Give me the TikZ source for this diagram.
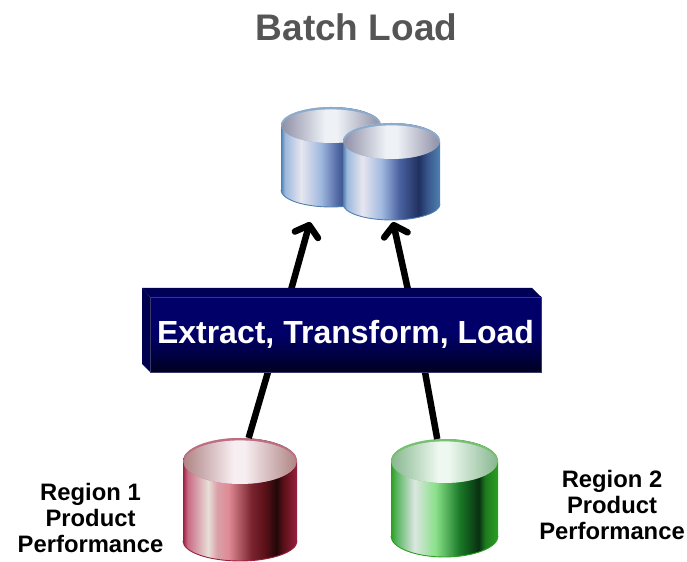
\documentclass[tikz,border=0pt]{standalone}
\usepackage{fontspec}
\setmainfont{Liberation Sans}
\usetikzlibrary{arrows.meta,calc,positioning}
\definecolor{rC}{HTML}{C96A85}\definecolor{rH}{HTML}{E8DFD8}\definecolor{rM}{HTML}{D9A0A8}
\definecolor{rP}{HTML}{E08A95}\definecolor{rD}{HTML}{7A2430}\definecolor{rE}{HTML}{5A1018}
\definecolor{rK}{HTML}{200808}\definecolor{rR}{HTML}{992040}\definecolor{rI}{HTML}{B08585}
\definecolor{rL}{HTML}{F7EEF2}
\definecolor{gC}{HTML}{60B868}\definecolor{gH}{HTML}{DCE6E2}\definecolor{gM}{HTML}{88E088}
\definecolor{gD}{HTML}{1A7A28}\definecolor{gK}{HTML}{083010}\definecolor{gE}{HTML}{1F7A20}
\definecolor{gR}{HTML}{2AA020}\definecolor{gI}{HTML}{88B890}\definecolor{gL}{HTML}{EEF8F0}
\definecolor{bC}{HTML}{9BB8DC}\definecolor{bH}{HTML}{E8E6F0}\definecolor{bM}{HTML}{9FB8DE}
\definecolor{bD}{HTML}{4A62A0}\definecolor{bK}{HTML}{20305F}\definecolor{bE}{HTML}{3A5A90}
\definecolor{bR}{HTML}{4F80B0}\definecolor{bI}{HTML}{9090A8}\definecolor{bL}{HTML}{EEF2F6}
\definecolor{etlface}{HTML}{000055}
\definecolor{etlside}{HTML}{000050}
\definecolor{etlbottom}{HTML}{000022}
\definecolor{etltop}{HTML}{000068}
\definecolor{etledge}{HTML}{3A3A68}
\definecolor{titlegray}{HTML}{555555}
\pgfdeclarehorizontalshading{redbody}{100bp}{color(0bp)=(rR); color(25bp)=(rR); color(27bp)=(rC); color(36bp)=(rH); color(40bp)=(rM); color(45bp)=(rP); color(55bp)=(rD); color(61bp)=(rE); color(66bp)=(rK); color(69bp)=(rE); color(75bp)=(rR); color(100bp)=(rR)}
\pgfdeclarehorizontalshading{greenbody}{100bp}{color(0bp)=(gR); color(25bp)=(gR); color(28bp)=(gC); color(36bp)=(gH); color(46bp)=(gM); color(57bp)=(gD); color(66bp)=(gK); color(69bp)=(gE); color(75bp)=(gR); color(100bp)=(gR)}
\pgfdeclarehorizontalshading{bluebody}{100bp}{color(0bp)=(bR); color(25bp)=(bR); color(27bp)=(bC); color(35bp)=(bH); color(45bp)=(bM); color(54bp)=(bD); color(64bp)=(bK); color(69bp)=(bE); color(75bp)=(bR); color(100bp)=(bR)}
\pgfdeclarehorizontalshading{redtop}{100bp}{color(0bp)=(rI); color(25bp)=(rI); color(47bp)=(rL); color(52bp)=(rL); color(75bp)=(rI); color(100bp)=(rI)}
\pgfdeclarehorizontalshading{greentop}{100bp}{color(0bp)=(gI); color(25bp)=(gI); color(47bp)=(gL); color(52bp)=(gL); color(75bp)=(gI); color(100bp)=(gI)}
\pgfdeclarehorizontalshading{bluetop}{100bp}{color(0bp)=(bI); color(25bp)=(bI); color(47bp)=(bL); color(53bp)=(bL); color(75bp)=(bI); color(100bp)=(bI)}
\tikzset{
	x=1bp, y=1bp,
	db/.style = {inner sep=0pt, outer sep=0pt},
	link/.style = {line width=6.5bp, black},
	load/.style = {link, -{Straight Barb[round,length=10bp,width=24bp]}},
	etl/.style = {inner sep=0pt, outer sep=0pt, minimum width=391bp, minimum height=75bp, draw=etledge,
		top color=etltop, bottom color=etlbottom, middle color=etltop},
	region/.style = {align=center, font=\bfseries\fontsize{23.8bp}{25.6bp}\selectfont}
}
% node name, body, top, x radius, top y radius, bottom y radius, rim
\newcommand{\dbcyl}[7]{
	\path[shading=#2]
		($(#1.north west)+(0,-#5)$) -- ($(#1.south west)+(0,#6)$)
		arc[start angle=180, end angle=360, x radius=#4, y radius=#6]
		-- ($(#1.north east)+(0,-#5)$)
		arc[start angle=0, end angle=180, x radius=#4, y radius=#5] -- cycle;
	\draw[#7, line width=0.9bp] ($(#1.south west)+(0,#6)$)
		arc[start angle=180, end angle=360, x radius=#4, y radius=#6];
	\fill[#7!65!white] ($(#1.north)+(0,-#5)$) ellipse[x radius=#4, y radius=#5];
	\path[shading=#3]
		($(#1.north)+(0,-#5-1.2)$) ellipse[x radius=#4-1, y radius=#5-1.2];
}

\begin{document}
\begin{tikzpicture}
	\useasboundingbox (0,0) rectangle (687,562);
	\node (title) [font=\bfseries\fontsize{37bp}{40bp}\selectfont, text=titlegray] at (356.5,535) {Batch Load};

	\node (dbone) [db, minimum width=100bp, minimum height=100bp] at (331,405) {};
	\node (dbtwo) [db, minimum width=97bp, minimum height=97bp] [below right=-84bp and -38bp of dbone] {};
	\node (dbred) [db, minimum width=114bp, minimum height=123bp] at (240,62.5) {};
	\node (dbgreen) [db, minimum width=107bp, minimum height=118bp] at (444.5,64) {};
	\dbcyl{dbone}{bluebody}{bluetop}{50}{18}{17}{bR}
	\dbcyl{dbtwo}{bluebody}{bluetop}{48.5}{18}{16}{bR}
	\dbcyl{dbred}{redbody}{redtop}{57}{23}{20}{rR}
	\dbcyl{dbgreen}{greenbody}{greentop}{53.5}{22}{21}{gR}

	\coordinate (etlinred) at (268,190);
	\coordinate (etlingreen) at (425,190);
	\coordinate (etloutone) at (291,272);
	\coordinate (etlouttwo) at (408,272);
	\coordinate (tipone) at (310,340);
	\coordinate (tiptwo) at (393,340);
	\draw[link] (dbred.82) -- (etlinred);
	\draw[link] (dbgreen.97) -- (etlingreen);
	\draw[load] (etloutone) -- (tipone);
	\draw[load] (etlouttwo) -- (tiptwo);

	\fill[etlface] (142,274) -- (532,274) -- (541,265) -- (150,265) -- cycle;
	\fill[etlside] (142,274) -- (150,265) -- (150,190) -- (142,198) -- cycle;
	\node (etlbox) [etl, text=white, font=\bfseries\fontsize{32bp}{34bp}\selectfont] at (345.5,227.5) {\raisebox{-3bp}{Extract, Transform, Load}\hspace{4bp}};

	\node (regionone) [region] at (90.5,44) {Region 1\\Product\\Performance};
	\node (regiontwo) [region] at (612,57) {Region 2\\Product\\Performance};
\end{tikzpicture}
\end{document}
